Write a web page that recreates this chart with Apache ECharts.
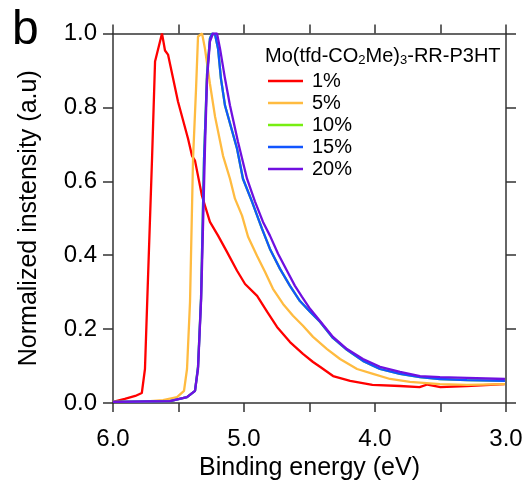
<!DOCTYPE html>
<html>
<head>
<meta charset="utf-8">
<script src="https://cdn.jsdelivr.net/npm/echarts@6/dist/echarts.min.js"></script>
<style>html,body{margin:0;padding:0;background:#fff;}#c{width:527px;height:486px;}</style>
</head>
<body>
<div id="c"></div>
<script>
var seriesNames = ['1%', '5%', '10%', '15%', '20%'];
var seriesColors = ['#ff0000', '#ffbb40', '#77ee11', '#1155ff', '#7010e0'];
var xTickLabels = ['3.0', '4.0', '5.0', '6.0'];

var e1 = [6.00,5.91,5.83,5.78,5.756,5.733,5.702,5.679,5.626,5.603,5.58,5.504,5.427,5.397,5.374,5.321,5.26,5.198,5.13,5.053,4.992,4.90,4.824,4.748,4.649,4.55,4.473,4.42,4.32,4.19,4.02,3.81,3.66,3.60,3.50,3.30,3.01];
var v1 = [0.003,0.011,0.019,0.027,0.092,0.336,0.661,0.924,1.0,0.954,0.943,0.816,0.715,0.669,0.656,0.561,0.49,0.453,0.409,0.358,0.322,0.29,0.247,0.206,0.165,0.133,0.111,0.098,0.073,0.060,0.049,0.046,0.043,0.050,0.043,0.046,0.051];

var e2 = [6.00,5.79,5.618,5.511,5.458,5.435,5.412,5.389,5.366,5.351,5.32,5.298,5.26,5.221,5.16,5.107,5.069,5.015,4.969,4.90,4.84,4.779,4.702,4.626,4.55,4.473,4.366,4.267,4.137,4.015,3.885,3.733,3.504,3.298,3.008];
var v2 = [0.003,0.003,0.008,0.016,0.033,0.092,0.274,0.661,0.851,0.992,1.0,0.959,0.864,0.775,0.669,0.607,0.553,0.507,0.45,0.398,0.355,0.309,0.268,0.236,0.209,0.179,0.146,0.119,0.092,0.079,0.065,0.057,0.051,0.049,0.051];

var e3 = [6.00,5.565,5.435,5.374,5.351,5.328,5.305,5.282,5.26,5.244,5.221,5.198,5.176,5.145,5.053,5.008,4.939,4.863,4.802,4.725,4.649,4.573,4.496,4.42,4.321,4.214,4.092,3.962,3.809,3.656,3.504,3.298,3.008];
var v3 = [0.003,0.005,0.016,0.033,0.098,0.282,0.661,0.89,0.986,1.0,0.997,0.959,0.878,0.805,0.688,0.607,0.545,0.472,0.417,0.363,0.317,0.276,0.247,0.22,0.176,0.144,0.114,0.092,0.079,0.070,0.065,0.062,0.060];

var e4 = [6.00,5.565,5.435,5.374,5.351,5.328,5.305,5.282,5.26,5.244,5.221,5.198,5.176,5.145,5.053,5.008,4.939,4.863,4.802,4.725,4.649,4.573,4.496,4.42,4.321,4.214,4.092,3.962,3.809,3.656,3.504,3.298,3.008];
var v4 = [0.003,0.005,0.016,0.033,0.098,0.282,0.661,0.89,0.986,1.0,0.997,0.959,0.878,0.805,0.688,0.607,0.545,0.472,0.417,0.363,0.317,0.276,0.247,0.22,0.176,0.144,0.114,0.092,0.079,0.070,0.065,0.062,0.060];

var e5 = [6.00,5.565,5.435,5.374,5.351,5.328,5.321,5.298,5.282,5.26,5.237,5.206,5.183,5.145,5.107,5.046,4.977,4.916,4.855,4.802,4.74,4.672,4.611,4.557,4.496,4.42,4.321,4.214,4.092,3.962,3.809,3.656,3.504,3.298,3.008];
var v5 = [0.003,0.005,0.016,0.033,0.092,0.274,0.363,0.688,0.878,0.978,1.0,1.0,0.959,0.878,0.805,0.707,0.607,0.545,0.49,0.453,0.404,0.358,0.317,0.287,0.255,0.222,0.179,0.146,0.119,0.098,0.084,0.073,0.070,0.068,0.065];

var energies = [e1, e2, e3, e4, e5];
var values = [v1, v2, v3, v4, v5];

function pairs(es, vs) { return es.map(function (e, i) { return [e, vs[i]]; }); }

var axisCol = '#333';
var font = 'Liberation Sans, Arial, sans-serif';

var chart = echarts.init(document.getElementById('c'), null, { renderer: 'canvas' });
var series = seriesNames.map(function (n, i) {
  return {
    name: n, type: 'line', xAxisIndex: 0, yAxisIndex: 0,
    data: pairs(energies[i], values[i]),
    showSymbol: false, symbol: 'none', smooth: false,
    lineStyle: { color: seriesColors[i], width: 2.3 },
    itemStyle: { color: seriesColors[i] },
    z: 2 + i, animation: false
  };
});

chart.setOption({
  animation: false,
  backgroundColor: '#fff',
  grid: { left: 113, right: 21, top: 33.5, bottom: 82, containLabel: false },
  xAxis: [{
    type: 'value', min: 3, max: 6, interval: 0.5, inverse: true, position: 'bottom',
    name: 'Binding energy (eV)', nameLocation: 'middle', nameGap: 53,
    nameTextStyle: { fontFamily: font, fontSize: 25, color: '#000' },
    axisLine: { show: true, onZero: false, lineStyle: { color: axisCol, width: 1.5 } },
    axisTick: { show: true, inside: false, length: 9, lineStyle: { color: axisCol, width: 1.5 } },
    axisLabel: {
      margin: 24, fontFamily: font, fontSize: 24, color: '#000',
      formatter: function (v) { var s = v.toFixed(1); return xTickLabels.indexOf(s) >= 0 ? s : ''; }
    },
    splitLine: { show: false }
  }, {
    type: 'value', min: 3, max: 6, interval: 0.5, inverse: true, position: 'top',
    axisLine: { show: true, onZero: false, lineStyle: { color: axisCol, width: 1.5 } },
    axisTick: { show: true, inside: false, length: 9, lineStyle: { color: axisCol, width: 1.5 } },
    axisLabel: { show: false }, splitLine: { show: false }
  }],
  yAxis: [{
    type: 'value', min: 0, max: 1, interval: 0.2, position: 'left',
    name: 'Normalized instensity (a.u)', nameLocation: 'middle', nameGap: 71,
    nameTextStyle: { fontFamily: font, fontSize: 25, color: '#000' },
    axisLine: { show: true, onZero: false, lineStyle: { color: axisCol, width: 1.5 } },
    axisTick: { show: true, inside: false, length: 10, lineStyle: { color: axisCol, width: 1.5 } },
    axisLabel: { margin: 16, fontFamily: font, fontSize: 24, color: '#000', formatter: function (v) { return v.toFixed(1); } },
    splitLine: { show: false }
  }, {
    type: 'value', min: 0, max: 1, interval: 0.2, position: 'right',
    axisLine: { show: true, onZero: false, lineStyle: { color: axisCol, width: 1.5 } },
    axisTick: { show: true, inside: false, length: 10, lineStyle: { color: axisCol, width: 1.5 } },
    axisLabel: { show: false }, splitLine: { show: false }
  }],
  legend: {
    data: seriesNames, orient: 'vertical', left: 268, top: 70, padding: 0,
    icon: 'rect', itemWidth: 35, itemHeight: 2.5, itemGap: 0,
    textStyle: { fontFamily: font, fontSize: 20, color: '#000', lineHeight: 22, padding: [0, 0, 0, 4] },
    selectedMode: false
  },
  graphic: [{
    type: 'text', left: 12, top: 7,
    style: { text: 'b', fontFamily: font, fontSize: 48, fill: '#000' }
  }, {
    type: 'text', left: 265, top: 46,
    style: {
      text: 'Mo(tfd-CO{s|2}Me){s|3}-RR-P3HT',
      fontFamily: font, fontSize: 20, fill: '#000',
      rich: { s: { fontFamily: font, fontSize: 13, fill: '#000', padding: [9, 0, 0, 0] } }
    }
  }],
  series: series
});
</script>
</body>
</html>
